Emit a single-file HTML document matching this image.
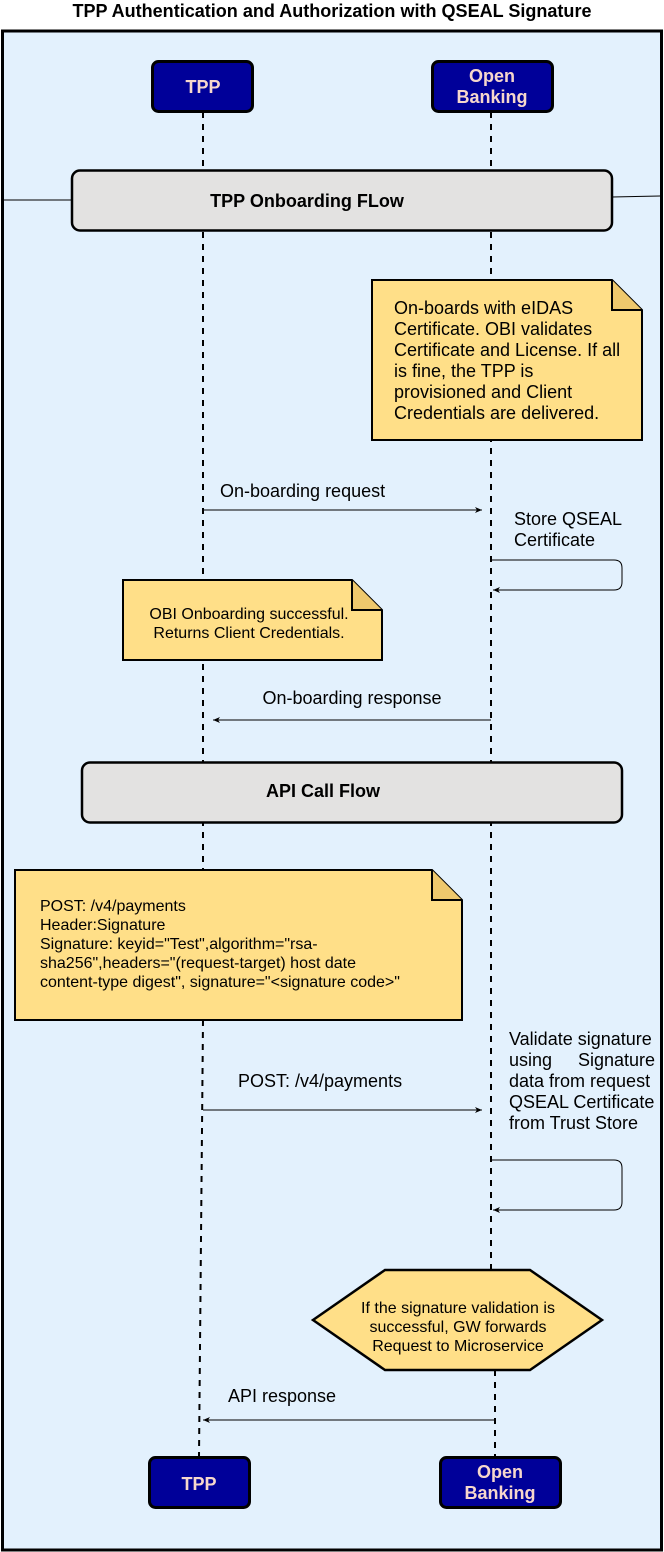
<!DOCTYPE html>
<html><head><style>body{margin:0;background:#fff}svg{display:block}text{font-family:"Liberation Sans",sans-serif}</style></head><body>
<svg width="664" height="1552" viewBox="0 0 664 1552" xmlns="http://www.w3.org/2000/svg">
<defs><marker id="a" markerWidth="8" markerHeight="8" refX="7" refY="4" orient="auto"><path d="M0,1 L7,4 L0,7 L2,4 Z" fill="#000"/></marker></defs>
<text x="332" y="17" font-size="18" font-weight="bold" text-anchor="middle" textLength="519" lengthAdjust="spacingAndGlyphs">TPP Authentication and Authorization with QSEAL Signature</text>
<rect x="2.5" y="31" width="659" height="1519" fill="#e3f1fd" stroke="#000" stroke-width="3"/>
<g stroke="#000" stroke-width="2" stroke-dasharray="6,6" fill="none">
<path d="M203,112 L203,1020"/><path d="M203,1020 L199,1456"/>
<path d="M491,112 L491,1270"/><path d="M495,1370 L495,1456"/>
</g>
<path d="M2,200 L72,200 M612,197 L660,196" stroke="#000" stroke-width="1"/>
<rect x="152.5" y="61.5" width="100" height="50" rx="6" fill="#000099" stroke="#000" stroke-width="3"/>
<text x="203" y="93" font-size="18" font-weight="bold" fill="#f6d7cc" text-anchor="middle">TPP</text>
<rect x="432.5" y="61.5" width="120" height="50" rx="6" fill="#000099" stroke="#000" stroke-width="3"/>
<text x="492" y="82" font-size="18" font-weight="bold" fill="#f6d7cc" text-anchor="middle">Open</text>
<text x="492" y="103" font-size="18" font-weight="bold" fill="#f6d7cc" text-anchor="middle">Banking</text>
<rect x="149.5" y="1457.5" width="100" height="50" rx="6" fill="#000099" stroke="#000" stroke-width="3"/>
<text x="199" y="1490" font-size="18" font-weight="bold" fill="#f6d7cc" text-anchor="middle">TPP</text>
<rect x="440.5" y="1457.5" width="120" height="50" rx="6" fill="#000099" stroke="#000" stroke-width="3"/>
<text x="500" y="1478" font-size="18" font-weight="bold" fill="#f6d7cc" text-anchor="middle">Open</text>
<text x="500" y="1499" font-size="18" font-weight="bold" fill="#f6d7cc" text-anchor="middle">Banking</text>
<rect x="72" y="170.5" width="540" height="60" rx="8" fill="#e3e2e1" stroke="#000" stroke-width="2.5"/>
<text x="307" y="207" font-size="18" font-weight="bold" text-anchor="middle">TPP Onboarding FLow</text>
<rect x="82" y="762.5" width="540" height="60" rx="8" fill="#e3e2e1" stroke="#000" stroke-width="2.5"/>
<text x="323" y="797" font-size="18" font-weight="bold" text-anchor="middle">API Call Flow</text>
<path d="M372,280 L612,280 L642,310 L642,440 L372,440 Z" fill="#ffdf88" stroke="#000" stroke-width="2"/>
<path d="M612,280 L612,310 L642,310" fill="#eec86d" stroke="#000" stroke-width="2"/>
<g font-size="18"><text x="394" y="314">On-boards with eIDAS</text><text x="394" y="335">Certificate. OBI validates</text><text x="394" y="356">Certificate and License. If all</text><text x="394" y="377">is fine, the TPP is</text><text x="394" y="398">provisioned and Client</text><text x="394" y="419">Credentials are delivered.</text></g>
<text x="220" y="497" font-size="18">On-boarding request</text>
<path d="M203,510 L482,510" stroke="#000" marker-end="url(#a)"/>
<text x="514" y="525" font-size="18">Store QSEAL</text><text x="514" y="546" font-size="18">Certificate</text>
<path d="M491,560 L614,560 Q622,560 622,568 L622,582 Q622,590 614,590 L493,590" stroke="#000" fill="none" marker-end="url(#a)"/>
<path d="M123,580 L352,580 L382,610 L382,660 L123,660 Z" fill="#ffdf88" stroke="#000" stroke-width="2"/>
<path d="M352,580 L352,610 L382,610" fill="#eec86d" stroke="#000" stroke-width="2"/>
<text x="249" y="619" font-size="16" text-anchor="middle">OBI Onboarding successful.</text>
<text x="249" y="638" font-size="16" text-anchor="middle">Returns Client Credentials.</text>
<text x="352" y="704" font-size="18" text-anchor="middle">On-boarding response</text>
<path d="M491,720 L213,720" stroke="#000" marker-end="url(#a)"/>
<path d="M15,870 L432,870 L462,900 L462,1020 L15,1020 Z" fill="#ffdf88" stroke="#000" stroke-width="2"/>
<path d="M432,870 L432,900 L462,900" fill="#eec86d" stroke="#000" stroke-width="2"/>
<g font-size="16"><text x="40" y="911">POST: /v4/payments</text><text x="40" y="930">Header:Signature</text><text x="40" y="949">Signature: keyid="Test",algorithm="rsa-</text><text x="40" y="968">sha256",headers="(request-target) host date</text><text x="40" y="987">content-type digest", signature="&lt;signature code&gt;"</text></g>
<text x="238" y="1087" font-size="18">POST: /v4/payments</text>
<path d="M203,1110 L482,1110" stroke="#000" marker-end="url(#a)"/>
<g font-size="18"><text x="509" y="1045">Validate signature</text><text x="509" y="1066">using</text><text x="655" y="1066" text-anchor="end">Signature</text><text x="509" y="1087">data from request</text><text x="509" y="1108">QSEAL Certificate</text><text x="509" y="1129">from Trust Store</text></g>
<path d="M491,1160 L614,1160 Q622,1160 622,1168 L622,1202 Q622,1210 614,1210 L493,1210" stroke="#000" fill="none" marker-end="url(#a)"/>
<polygon points="313,1320 385,1270 530,1270 602,1320 530,1370 385,1370" fill="#ffdf88" stroke="#000" stroke-width="2.5"/>
<g font-size="16" text-anchor="middle"><text x="458" y="1313">If the signature validation is</text><text x="458" y="1332">successful, GW forwards</text><text x="458" y="1351">Request to Microservice</text></g>
<text x="228" y="1402" font-size="18">API response</text>
<path d="M494,1420 L203,1420" stroke="#000" marker-end="url(#a)"/>
</svg>
</body></html>
